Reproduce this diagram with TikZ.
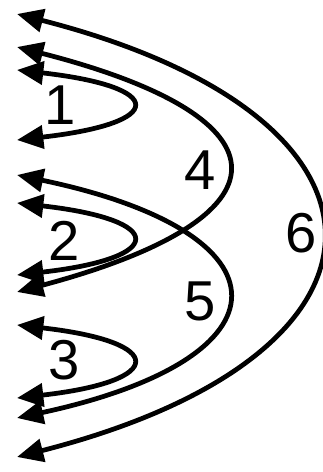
\documentclass[tikz,border=0pt]{standalone}
\usepackage{fontspec}
\setmainfont{Liberation Sans}
\usetikzlibrary{arrows.meta}

\begin{document}
\begin{tikzpicture}[
    x=0.02cm, y=-0.02cm,
    hairpin/.style={line width=2.7pt,
                    {Triangle[length=15pt, width=13pt]}-{Triangle[length=15pt, width=13pt]}},
    numlabel/.style={font=\fontsize{32}{36}\selectfont, inner sep=0pt},
  ]
  \useasboundingbox (0,0) rectangle (323,472);

  \def\tipx{17}   % all arrow tips sit on one vertical line

  % --- end points ---
  \coordinate (s1) at (\tipx,70);   \coordinate (e1) at (\tipx,140);
  \coordinate (s2) at (\tipx,203);  \coordinate (e2) at (\tipx,275);
  \coordinate (s3) at (\tipx,325);  \coordinate (e3) at (\tipx,398);
  \coordinate (s4) at (\tipx,47);   \coordinate (e4) at (\tipx,292);
  \coordinate (s5) at (\tipx,175);  \coordinate (e5) at (\tipx,418);
  \coordinate (s6) at (\tipx,14);   \coordinate (e6) at (\tipx,457);

  % --- small loops ---
  \draw[hairpin] (s1) .. controls (167,87) and (167,123) .. (e1);
  \draw[hairpin] (s2) .. controls (167,220) and (167,258) .. (e2);
  \draw[hairpin] (s3) .. controls (167,342) and (167,381) .. (e3);

  % --- middle loops ---
  \draw[hairpin] (s4) .. controls (295,118) and (295,218) .. (e4);
  \draw[hairpin] (s5) .. controls (295,233) and (295,358) .. (e5);

  % --- outer loop ---
  \draw[hairpin] (s6) .. controls (420,117) and (420,354) .. (e6);

  % --- numbers ---
  \node[numlabel] (n1) at (60,105) {1};
  \node[numlabel] (n2) at (64,241) {2};
  \node[numlabel] (n3) at (64,360) {3};
  \node[numlabel] (n4) at (200,170) {4};
  \node[numlabel] (n5) at (200,301) {5};
  \node[numlabel] (n6) at (301,233) {6};

\end{tikzpicture}
\end{document}
